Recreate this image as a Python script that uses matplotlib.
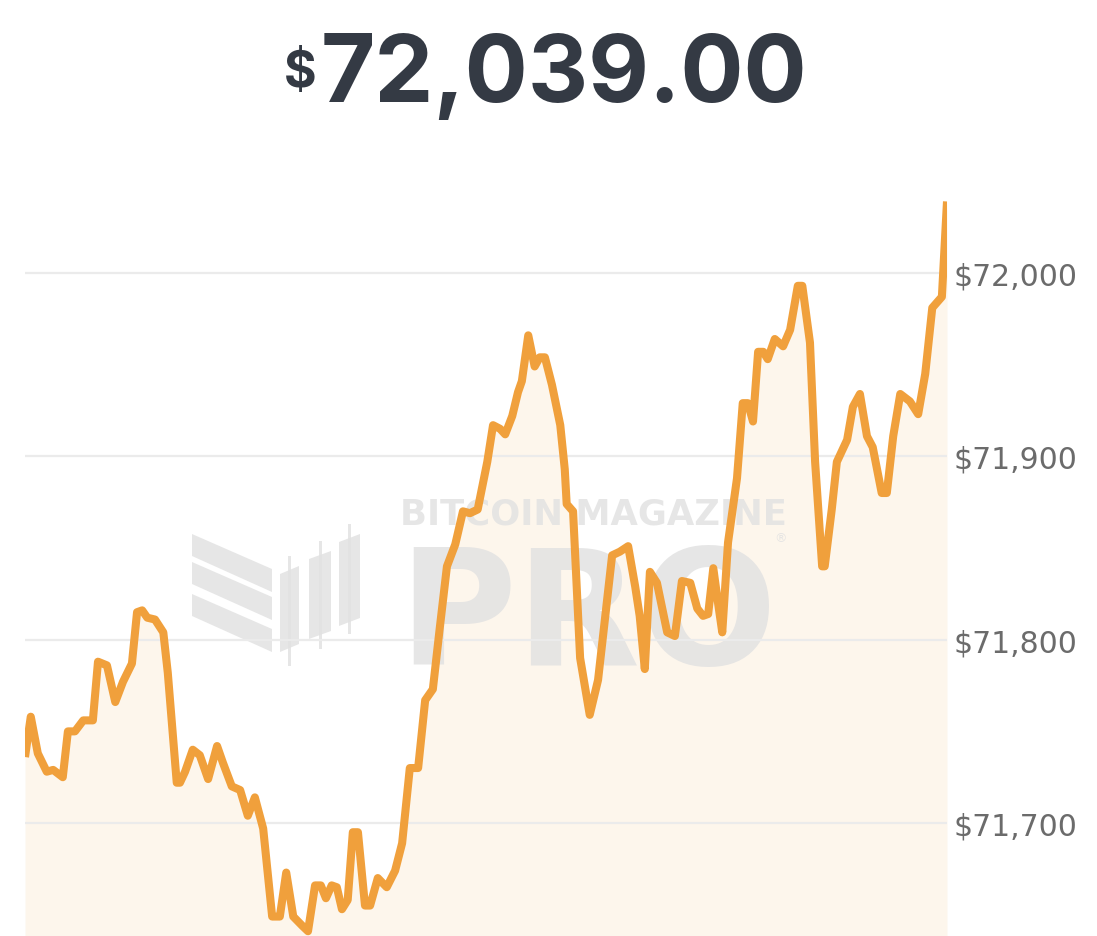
import matplotlib
matplotlib.use("Agg")
from matplotlib import pyplot as plt
from matplotlib.patches import Polygon, Rectangle

# minutes since start of window, and BTC price (USD)
minutes = [0, 9, 20, 34, 44, 59, 67, 78, 91, 106, 114, 128, 141, 153, 167, 175, 183, 191, 203, 216,
           223, 237, 242, 250, 262, 273, 286, 300, 309, 323, 336, 348, 359, 372, 386, 398, 408, 419, 433, 442,
           453, 462, 470, 479, 487, 495, 504, 512, 520, 531, 539, 551, 565, 578, 589, 601, 614, 625, 637, 648,
           659, 672, 684, 695, 707, 722, 731, 742, 750, 761, 770, 776, 786, 796, 804, 812, 823, 836, 843, 846,
           856, 867, 882, 895, 906, 917, 929, 942, 953, 960, 968, 976, 987, 1003, 1015, 1026, 1039, 1050, 1059, 1067,
           1075, 1082, 1089, 1098, 1112, 1121, 1129, 1137, 1145, 1153, 1160, 1171, 1184, 1195, 1207, 1214, 1226, 1234, 1245, 1249,
           1260, 1268, 1284, 1293, 1304, 1315, 1324, 1338, 1346, 1356, 1367, 1382, 1395, 1406, 1417, 1432, 1440]
price = [71736, 71758, 71738, 71728, 71729, 71725, 71750, 71750, 71756, 71756, 71788, 71786, 71766, 71777, 71787, 71815, 71816, 71812, 71811, 71804,
         71782, 71722, 71722, 71728, 71740, 71737, 71724, 71742, 71733, 71720, 71718, 71704, 71714, 71697, 71649, 71649, 71673, 71649, 71644, 71641,
         71666, 71666, 71659, 71666, 71665, 71653, 71658, 71695, 71695, 71655, 71655, 71670, 71665, 71674, 71689, 71730, 71730, 71767, 71773, 71807,
         71840, 71852, 71870, 71869, 71871, 71897, 71917, 71915, 71912, 71922, 71935, 71941, 71966, 71949, 71954, 71954, 71939, 71917, 71893, 71874,
         71870, 71790, 71759, 71778, 71812, 71846, 71848, 71851, 71829, 71813, 71784, 71837, 71831, 71804, 71802, 71832, 71831, 71817, 71813, 71814,
         71839, 71821, 71804, 71853, 71888, 71929, 71929, 71919, 71957, 71957, 71953, 71964, 71960, 71969, 71993, 71993, 71962, 71897, 71840, 71840,
         71871, 71897, 71909, 71927, 71934, 71911, 71905, 71880, 71880, 71911, 71934, 71930, 71923, 71945, 71981, 71987, 72039]

yticks = [71700, 71800, 71900, 72000]
ytick_labels = ["$71,700", "$71,800", "$71,900", "$72,000"]
headline = "72,039.00"

LINE = "#F0A03C"
FILL = "#FDF6EC"
MARK = "#E2E2E2"

fig = plt.figure(figsize=(10.97, 9.37), dpi=100)

W, H = 1097.0, 937.0
def px(x, y):
    return (x / W, 1 - y / H)

ax = fig.add_axes([25 / W, 0, (947 - 25) / W, (937 - 190) / H])
ax.fill_between(minutes, price, 71600, color=FILL, lw=0, zorder=1)
ax.plot(minutes, price, color=LINE, lw=5.8, solid_joinstyle="round", solid_capstyle="butt", zorder=4)

# watermark sits between the fill and the line
wm = dict(color=MARK, alpha=0.85, transform=fig.transFigure, zorder=2)
ax.text(400 / W, 1 - 525 / H, "BITCOIN MAGAZINE", fontsize=25.5, fontweight="bold",
        ha="left", va="baseline", family="DejaVu Sans", **wm)
ax.text(398 / W, 1 - 665 / H, "PRO", fontsize=116, fontweight="bold",
        ha="left", va="baseline", family="DejaVu Sans", **wm)
ax.text(781 / W, 1 - 539 / H, "®", fontsize=9, ha="center", va="center", **wm)

# logo: slanted bands + candles
for top in [535, 563, 595]:
    pts = [px(192, top), px(272, top + 35), px(272, top + 58), px(192, top + 22)]
    ax.add_patch(Polygon(pts, closed=True, lw=0, **wm))
for x0, x1, b0, b1, w0, w1 in [(280, 299, 567, 653, 557, 667),
                               (309, 331, 552, 640, 542, 650),
                               (339, 360, 535, 627, 525, 635)]:
    body = [px(x0, b0 + 8), px(x1, b0), px(x1, b1 - 8), px(x0, b1)]
    ax.add_patch(Polygon(body, closed=True, lw=0, **wm))
    cx = (x0 + x1) / 2
    ax.add_patch(Rectangle(px(cx - 1.5, w1), 3 / W, (w1 - w0) / H, lw=0, **wm))

ax.set_xlim(minutes[0], minutes[-1])
ax.set_ylim(71638.4, 72045.8)
ax.set_yticks(yticks)
ax.set_yticklabels(ytick_labels)
ax.yaxis.tick_right()
ax.tick_params(axis="y", length=0, pad=5, labelsize=21.5, labelcolor="#6B6B6B")
ax.set_xticks([])
ax.grid(axis="y", color="#EBEBEB", lw=1.6, zorder=3)
ax.set_axisbelow(False)
for s in ax.spines.values():
    s.set_visible(False)

# headline price
fig.text(321 / W, 1 - 102 / H, headline, fontsize=67.5, fontweight="bold",
         color="#343A44", ha="left", va="baseline", family="Inter")
fig.text(316 / W, 1 - 87 / H, "$", fontsize=36, fontweight="bold",
         color="#343A44", ha="right", va="baseline", family="Inter")

plt.savefig("out.png", dpi=100)
